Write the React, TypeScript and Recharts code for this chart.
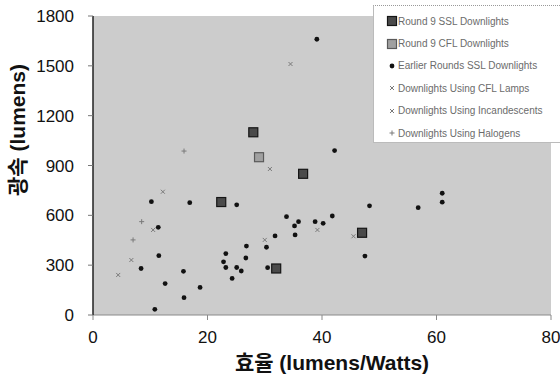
import React from "react";
import {
  ScatterChart,
  Scatter,
  XAxis,
  YAxis,
  CartesianGrid,
  Legend,
  Label,
} from "recharts";

// efficacy (lm/W) vs light output (lm)
const round9Ssl = [
  { x: 28.0, y: 1100 },
  { x: 36.7, y: 850 },
  { x: 22.4, y: 680 },
  { x: 32.0, y: 280 },
  { x: 47.0, y: 495 },
];

const round9Cfl = [{ x: 29.0, y: 950 }];

const earlierSsl = [
  { x: 39.1, y: 1660 },
  { x: 42.2, y: 990 },
  { x: 16.9, y: 676 },
  { x: 25.1, y: 663 },
  { x: 48.3, y: 657 },
  { x: 33.8, y: 592 },
  { x: 35.9, y: 562 },
  { x: 38.8, y: 562 },
  { x: 41.8, y: 596 },
  { x: 35.2, y: 536 },
  { x: 35.3, y: 482 },
  { x: 11.5, y: 357 },
  { x: 26.8, y: 415 },
  { x: 31.8, y: 476 },
  { x: 30.3, y: 408 },
  { x: 23.2, y: 370 },
  { x: 22.8, y: 320 },
  { x: 23.2, y: 286 },
  { x: 25.1, y: 286 },
  { x: 25.9, y: 265 },
  { x: 24.3, y: 220 },
  { x: 26.7, y: 343 },
  { x: 30.5, y: 285 },
  { x: 8.4, y: 280 },
  { x: 15.8, y: 263 },
  { x: 12.6, y: 189 },
  { x: 10.2, y: 682 },
  { x: 18.7, y: 166 },
  { x: 15.9, y: 104 },
  { x: 10.8, y: 34 },
  { x: 47.5, y: 355 },
  { x: 56.8, y: 646 },
  { x: 61.0, y: 733 },
  { x: 61.0, y: 679 },
  { x: 40.2, y: 552 },
  { x: 11.4, y: 528 },
];

const cflLamps = [
  { x: 34.5, y: 1511 },
  { x: 30.9, y: 879 },
  { x: 45.5, y: 474 },
  { x: 30.0, y: 452 },
  { x: 39.2, y: 512 },
];

const incandescents = [
  { x: 4.4, y: 241 },
  { x: 6.7, y: 331 },
  { x: 10.5, y: 512 },
  { x: 12.2, y: 742 },
];

const halogens = [
  { x: 7.0, y: 452 },
  { x: 8.5, y: 562 },
  { x: 15.9, y: 987 },
];

const xTicks = [0, 20, 40, 60, 80];
const yTicks = [0, 300, 600, 900, 1200, 1500, 1800];

const legendLabels = [
  "Round 9 SSL Downlights",
  "Round 9 CFL Downlights",
  "Earlier Rounds SSL Downlights",
  "Downlights Using CFL Lamps",
  "Downlights Using Incandescents",
  "Downlights Using Halogens",
];

const latin = "'Liberation Sans', Arial, 'Noto Sans CJK KR', sans-serif";

const DarkSquare = (p: any) => (
  <rect x={p.cx - 4.5} y={p.cy - 4.5} width={9} height={9} fill="#4a4a4a" stroke="#151515" strokeWidth={1.2} />
);
const LightSquare = (p: any) => (
  <rect x={p.cx - 4.5} y={p.cy - 4.5} width={9} height={9} fill="#a0a0a0" stroke="#5a5a5a" strokeWidth={1.2} />
);
const Dot = (p: any) => <circle cx={p.cx} cy={p.cy} r={2.4} fill="#111" />;
const Cross = (p: any) => (
  <path
    d={`M${p.cx - 2},${p.cy - 2}L${p.cx + 2},${p.cy + 2}M${p.cx - 2},${p.cy + 2}L${p.cx + 2},${p.cy - 2}`}
    stroke="#7a7a7a"
    strokeWidth={1}
  />
);
const Plus = (p: any) => (
  <path
    d={`M${p.cx - 2.5},${p.cy}L${p.cx + 2.5},${p.cy}M${p.cx},${p.cy - 2.5}L${p.cx},${p.cy + 2.5}`}
    stroke="#7a7a7a"
    strokeWidth={1}
  />
);

const markers = [DarkSquare, LightSquare, Dot, Cross, Cross, Plus];

function LegendBox() {
  return (
    <div
      style={{
        background: "#fff",
        borderTop: "1px dotted #999",
        borderLeft: "1px solid #bbb",
        borderBottom: "1px solid #bbb",
        height: 138,
        boxSizing: "border-box",
        paddingTop: 4,
        fontFamily: latin,
        fontSize: 10,
        color: "#6b6b6b",
      }}
    >
      {legendLabels.map((label, i) => {
        const M = markers[i];
        return (
          <div key={label} style={{ height: 22.4, display: "flex", alignItems: "center", whiteSpace: "nowrap" }}>
            <svg width={24} height={12} style={{ flex: "none" }}>
              <M cx={18} cy={6} />
            </svg>
            <span>{label}</span>
          </div>
        );
      })}
    </div>
  );
}

const YTitle = () => (
  <text
    x={17}
    y={130}
    transform="rotate(-90,17,130)"
    textAnchor="middle"
    dominantBaseline="central"
    fontFamily={latin}
    fontWeight="bold"
    fontSize={21}
    fill="#111"
  >
    광속 (lumens)
  </text>
);

const XTitle = () => (
  <text
    x={332}
    y={362}
    textAnchor="middle"
    dominantBaseline="central"
    fontFamily={latin}
    fontWeight="bold"
    fontSize={21}
    fill="#111"
  >
    효율 (lumens/Watts)
  </text>
);

export default function App() {
  const tickStyle = { fontFamily: latin, fontSize: 17, fill: "#111" };
  return (
    <div style={{ position: "absolute", left: 0, top: 0, width: 560, height: 376, background: "#fff" }}>
      <ScatterChart width={560} height={376} margin={{ top: 16, right: 9, bottom: 31, left: 0 }}>
        <CartesianGrid horizontal={false} vertical={false} fill="#cccccc" />
        <XAxis
          type="number"
          dataKey="x"
          domain={[0, 80]}
          ticks={xTicks}
          height={30}
          tickSize={5}
          tickMargin={11}
          tick={tickStyle}
          axisLine={{ stroke: "#8a8a8a" }}
          tickLine={{ stroke: "#8a8a8a" }}
        >
          <Label content={XTitle} />
        </XAxis>
        <YAxis
          type="number"
          dataKey="y"
          domain={[0, 1800]}
          ticks={yTicks}
          width={93}
          tickSize={5}
          tickMargin={14}
          tick={tickStyle}
          axisLine={{ stroke: "#222", strokeWidth: 1.5 }}
          tickLine={{ stroke: "#777" }}
        >
          <Label content={YTitle} />
        </YAxis>
        <Legend
          layout="vertical"
          align="center"
          verticalAlign="middle"
          content={() => <LegendBox />}
          wrapperStyle={{ position: "absolute", left: 373, top: 5, width: 187 }}
        />
        <Scatter name="Downlights Using Incandescents" data={incandescents} shape={Cross} isAnimationActive={false} />
        <Scatter name="Downlights Using Halogens" data={halogens} shape={Plus} isAnimationActive={false} />
        <Scatter name="Downlights Using CFL Lamps" data={cflLamps} shape={Cross} isAnimationActive={false} />
        <Scatter name="Earlier Rounds SSL Downlights" data={earlierSsl} shape={Dot} isAnimationActive={false} />
        <Scatter name="Round 9 CFL Downlights" data={round9Cfl} shape={LightSquare} isAnimationActive={false} />
        <Scatter name="Round 9 SSL Downlights" data={round9Ssl} shape={DarkSquare} isAnimationActive={false} />
      </ScatterChart>
    </div>
  );
}
